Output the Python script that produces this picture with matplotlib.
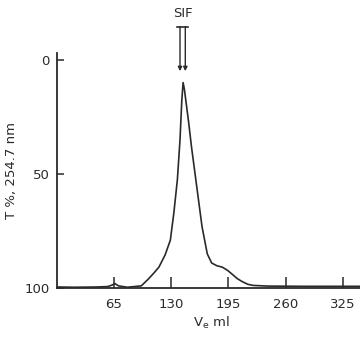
import matplotlib.pyplot as plt

# elution volume (ml) and transmission (T %)
ve_ml = [0, 20, 45, 58, 63, 66, 70, 80, 96, 104, 110, 116, 123, 129, 133, 137,
         140, 142, 143.5, 145, 147, 150, 153, 159, 165, 171, 176, 182, 188, 194,
         199, 205, 211, 217, 223, 240, 280, 320, 352]
t_pct = [99.5, 99.6, 99.5, 99.3, 98.6, 98.0, 99.0, 99.6, 99.0, 96.0, 93.5, 90.8,
         85.5, 79, 67, 52.5, 35, 18, 10, 13, 19, 28, 38, 55.5, 73, 85, 89,
         90.2, 90.8, 92.2, 93.8, 95.8, 97.2, 98.3, 98.8, 99.1, 99.2, 99.2, 99.2]

x_ticks = [65, 130, 195, 260, 325]
y_ticks = [0, 50, 100]
sif_ml = [140, 146]

col = '#2a2a2a'

fig = plt.figure(figsize=(3.6, 3.39), dpi=100)
ax = fig.add_axes([0.158, 0.150, 0.86, 0.694])

ax.plot(ve_ml, t_pct, color=col, lw=1.2)

ax.set_xlim(0, 352)
ax.set_ylim(100, -3)
ax.set_xticks(x_ticks)
ax.set_yticks(y_ticks)
ax.tick_params(axis='both', direction='in', colors=col, labelsize=9.5, width=1.1)
ax.tick_params(axis='x', length=8, pad=7)
ax.tick_params(axis='y', length=5, pad=5)
for s in ['top', 'right']:
    ax.spines[s].set_visible(False)
for s in ['left', 'bottom']:
    ax.spines[s].set_color(col)
    ax.spines[s].set_linewidth(1.3)

ax.set_xlabel('V$_{\\mathregular{e}}$ ml', color=col, fontsize=9.5, labelpad=3)
ax.set_ylabel('T %, 254.7 nm', color=col, fontsize=9.5, labelpad=5)

# SIF marker: two T-topped lines with arrows
for v in sif_ml:
    ax.annotate('', xy=(v, 5), xytext=(v, -14.5), annotation_clip=False,
                arrowprops=dict(arrowstyle='-|>', color=col, lw=1.0,
                                mutation_scale=6, shrinkA=0, shrinkB=0))
ax.plot([137, 149], [-14.5, -14.5], color=col, lw=1.2, clip_on=False)
ax.text(143, -17.5, 'SIF', ha='center', va='bottom', color=col, fontsize=9.5,
        clip_on=False)

fig.savefig('out.png', dpi=100)
